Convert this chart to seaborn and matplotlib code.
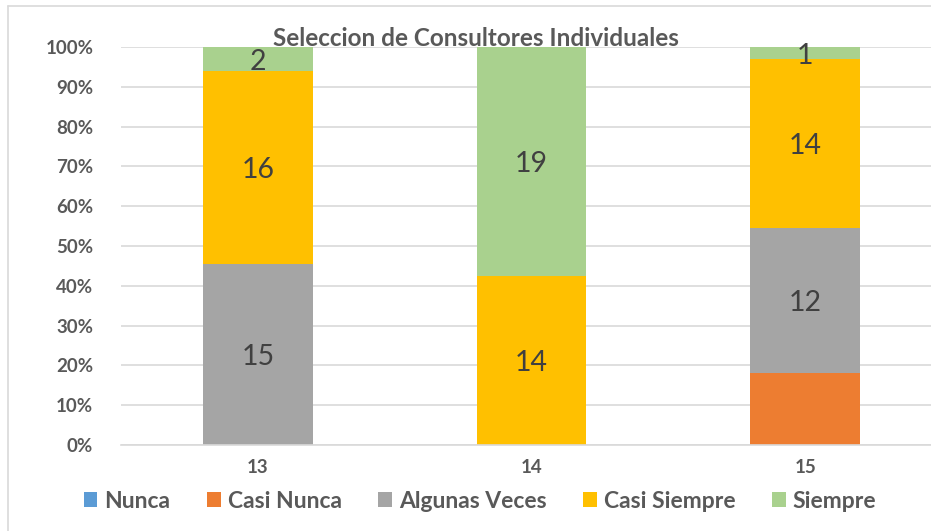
import matplotlib
matplotlib.use("Agg")
import matplotlib.pyplot as plt
import matplotlib.lines as mlines
from matplotlib.patches import Patch
import seaborn as sns
import pandas as pd
import numpy as np

categories = ["13", "14", "15"]
series_names = ["Nunca", "Casi Nunca", "Algunas Veces", "Casi Siempre", "Siempre"]
nunca = [0, 0, 0]
casi_nunca = [0, 0, 6]
algunas_veces = [15, 0, 12]
casi_siempre = [16, 14, 14]
siempre = [2, 19, 1]
colors = ["#5B9BD5", "#ED7D31", "#A5A5A5", "#FFC000", "#A9D18E"]
yticks = [0, 10, 20, 30, 40, 50, 60, 70, 80, 90, 100]
ytick_labels = [f"{t}%" for t in yticks]
title = "Seleccion de Consultores Individuales"
hidden_labels = {("Casi Nunca", "15")}

values = np.array([nunca, casi_nunca, algunas_veces, casi_siempre, siempre], dtype=float)
totals = values.sum(axis=0)
pct = values / totals * 100
cum = np.cumsum(pct, axis=0)

sns.set_theme(style="white")
plt.rcParams["font.family"] = ["Lato", "DejaVu Sans"]

fig = plt.figure(figsize=(9.31, 5.31), dpi=100)
ax = fig.add_axes([121 / 931, (531 - 445) / 531, (942 - 121) / 931, (445 - 47) / 531])

# draw layered cumulative bars from top series downwards
for i in range(len(series_names) - 1, -1, -1):
    df = pd.DataFrame({"cat": categories, "val": cum[i]})
    sns.barplot(data=df, x="cat", y="val", color=colors[i], width=0.4,
                saturation=1, ax=ax, linewidth=0, zorder=2)

# data labels
for i, name in enumerate(series_names):
    for j, cat in enumerate(categories):
        if values[i, j] <= 0 or (name, cat) in hidden_labels:
            continue
        mid = cum[i, j] - pct[i, j] / 2
        ax.text(j, mid, f"{int(values[i, j])}", ha="center", va="center_baseline",
                fontsize=20.5, color="#404040", zorder=5)

ax.set_ylim(0, 100)
ax.set_xlim(-0.5, 2.5)
ax.set_yticks(yticks)
ax.set_yticklabels(ytick_labels)
ax.yaxis.grid(True, color="#D9D9D9", linewidth=1.2, zorder=0)
ax.set_axisbelow(True)
ax.set_xlabel("")
ax.set_ylabel("")
for s in ["top", "right", "left"]:
    ax.spines[s].set_visible(False)
ax.spines["bottom"].set_color("#D9D9D9")
ax.spines["bottom"].set_linewidth(1.2)
ax.tick_params(axis="y", length=0, pad=20, labelsize=13.5, labelcolor="#595959")
ax.tick_params(axis="x", length=0, pad=10, labelsize=13.5, labelcolor="#595959")
for lbl in ax.get_yticklabels() + ax.get_xticklabels():
    lbl.set_fontweight("bold")

fig.text(476 / 931, 1 - 38 / 531, title, ha="center", va="center",
         fontsize=17.5, fontweight="bold", color="#595959")

handles = [Patch(facecolor=c, edgecolor="none", label=n) for c, n in zip(colors, series_names)]
leg = fig.legend(handles=handles, loc="center", bbox_to_anchor=(480 / 931, 1 - 501 / 531),
                 ncol=5, frameon=False, fontsize=16.5, handlelength=0.6, handleheight=0.6,
                 handletextpad=0.3, columnspacing=1.6)
for t in leg.get_texts():
    t.set_color("#595959")
    t.set_fontweight("bold")

# chart area border (partially cropped)
fig.add_artist(mlines.Line2D([8 / 931, 8 / 931], [0, 1 - 6 / 531], color="#D9D9D9", linewidth=1.2))
fig.add_artist(mlines.Line2D([8 / 931, 1], [1 - 6 / 531, 1 - 6 / 531], color="#D9D9D9", linewidth=1.2))

fig.savefig("out.png", dpi=100)
